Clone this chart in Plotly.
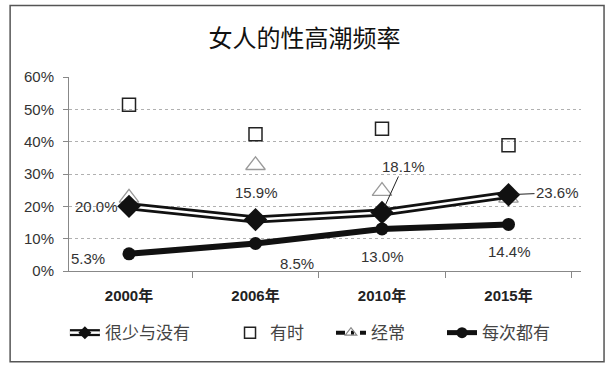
import plotly.graph_objects as go

years = ["2000年", "2006年", "2010年", "2015年"]
rarely = [0.200, 0.159, 0.181, 0.236]
sometimes = [0.514, 0.423, 0.440, 0.389]
often = [0.226, 0.327, 0.247, 0.226]
always = [0.053, 0.085, 0.130, 0.144]
rarely_labels = ["20.0%", "15.9%", "18.1%", "23.6%"]
always_labels = ["5.3%", "8.5%", "13.0%", "14.4%"]
y_ticks = [0, 0.1, 0.2, 0.3, 0.4, 0.5, 0.6]
y_tick_text = ["0%", "10%", "20%", "30%", "40%", "50%", "60%"]

names = ["很少与没有", "有时", "经常", "每次都有"]

fig = go.Figure()

# ---- plotted marks (legend entries are drawn separately below) ----
# 经常 (triangles)
fig.add_trace(go.Scatter(x=years, y=often, mode="markers", showlegend=False,
                         marker=dict(symbol="triangle-up-open", size=17, color="#9a9a9a",
                                     line=dict(width=1.3, color="#9a9a9a"))))
# 有时 (squares)
fig.add_trace(go.Scatter(x=years, y=sometimes, mode="markers", showlegend=False,
                         marker=dict(symbol="square-open", size=13, color="#222",
                                     line=dict(width=1.5, color="#222"))))
# 每次都有
fig.add_trace(go.Scatter(x=years, y=always, mode="lines+markers", showlegend=False,
                         line=dict(color="#111", width=6),
                         marker=dict(symbol="circle", size=13, color="#111")))
# 很少与没有 (double line)
fig.add_trace(go.Scatter(x=years, y=rarely, mode="lines", showlegend=False,
                         line=dict(color="#111", width=8)))
fig.add_trace(go.Scatter(x=years, y=rarely, mode="lines", showlegend=False, hoverinfo="skip",
                         line=dict(color="white", width=2.5)))
fig.add_trace(go.Scatter(x=years, y=rarely, mode="markers", showlegend=False,
                         marker=dict(symbol="diamond", size=18, color="#111")))

# ---- legend-only entries ----
leg_font = dict(family="Noto Sans CJK SC", size=17, color="#444")
fig.add_trace(go.Scatter(x=[None], y=[None], mode="lines", name=names[0], legend="legend",
                         line=dict(color="#111", width=7)))
fig.add_trace(go.Scatter(x=[None], y=[None], mode="lines+markers", name=names[0], legend="legend2",
                         line=dict(color="white", width=2.5),
                         marker=dict(symbol="diamond", size=10, color="#111")))
fig.add_trace(go.Scatter(x=[None], y=[None], mode="markers", name=names[1], legend="legend3",
                         marker=dict(symbol="square-open", size=11, color="#222",
                                     line=dict(width=1.5, color="#222"))))
fig.add_trace(go.Scatter(x=[None], y=[None], mode="lines+markers", name=names[2], legend="legend4",
                         line=dict(color="#111", width=4, dash="9px,6px,3px,6px"),
                         marker=dict(symbol="triangle-up-open", size=10, color="#888",
                                     line=dict(width=1.2, color="#888"))))
fig.add_trace(go.Scatter(x=[None], y=[None], mode="lines+markers", name=names[3], legend="legend5",
                         line=dict(color="#111", width=5),
                         marker=dict(symbol="circle", size=11, color="#111")))

lab_font = dict(family="Liberation Sans, Noto Sans CJK SC", size=15, color="#333")
# labels for 很少与没有
fig.add_annotation(x=years[0], y=rarely[0], text=rarely_labels[0], showarrow=False,
                   xshift=-33, yshift=0, font=lab_font)
fig.add_annotation(x=years[1], y=rarely[1], text=rarely_labels[1], showarrow=False,
                   xshift=1, yshift=27, font=lab_font)
fig.add_annotation(x=years[2], y=rarely[2], text=rarely_labels[2], showarrow=True,
                   arrowhead=0, arrowwidth=1, arrowcolor="#222", ax=21, ay=-46, standoff=6,
                   font=lab_font)
fig.add_annotation(x=years[3], y=rarely[3], text=rarely_labels[3], showarrow=True,
                   arrowhead=0, arrowwidth=1, arrowcolor="#222", ax=49, ay=-2, standoff=8,
                   font=lab_font)
# labels for 每次都有
shifts = [(-41, -5), (41, -20), (0, -28), (1, -27)]
for yr, v, t, (dx, dy) in zip(years, always, always_labels, shifts):
    fig.add_annotation(x=yr, y=v, text=t, showarrow=False, xshift=dx, yshift=dy, font=lab_font)

# outer border
fig.add_shape(type="rect", xref="paper", yref="paper", x0=-0.115, x1=1.045, y0=-0.468, y1=1.368,
              line=dict(color="#555", width=1.5), layer="below")


def leg(x, font):
    return dict(orientation="h", x=x, xanchor="left", y=-0.32, yanchor="middle",
                font=font, bgcolor="rgba(0,0,0,0)", borderwidth=0)


clear_font = dict(family="Noto Sans CJK SC", size=17, color="rgba(0,0,0,0)")

fig.update_layout(
    width=615, height=371,
    margin=dict(l=69, r=34, t=77, b=100),
    paper_bgcolor="white", plot_bgcolor="white",
    title=dict(text="女人的性高潮频率", x=0.495, xref="container", xanchor="center",
               y=0.895, yanchor="middle",
               font=dict(family="Noto Sans CJK SC", size=24, color="#111")),
    showlegend=True,
    legend=leg(-0.008, leg_font),
    legend2=leg(-0.008, clear_font),
    legend3=leg(0.3145, leg_font),
    legend4=leg(0.5117, leg_font),
    legend5=leg(0.7285, leg_font),
    xaxis=dict(type="category", tickson="boundaries", ticks="outside", ticklen=6,
               tickcolor="#888", showline=True, linecolor="#888", linewidth=1,
               showgrid=False, ticklabelstandoff=11,
               tickfont=dict(family="Liberation Sans, Noto Sans CJK SC", size=15, color="#222",
                             weight="bold")),
    yaxis=dict(range=[0, 0.6], tickvals=y_ticks, ticktext=y_tick_text, ticks="outside",
               ticklen=5, tickcolor="#888", showline=True, linecolor="#888", linewidth=1,
               showgrid=True, gridcolor="#b0b0b0", griddash="dot", gridwidth=1, zeroline=False,
               ticklabelstandoff=6,
               tickfont=dict(family="Liberation Sans", size=15, color="#333")),
)

fig.write_html("out.html", config={"displayModeBar": False},
               post_script="document.body.style.margin='0';")
